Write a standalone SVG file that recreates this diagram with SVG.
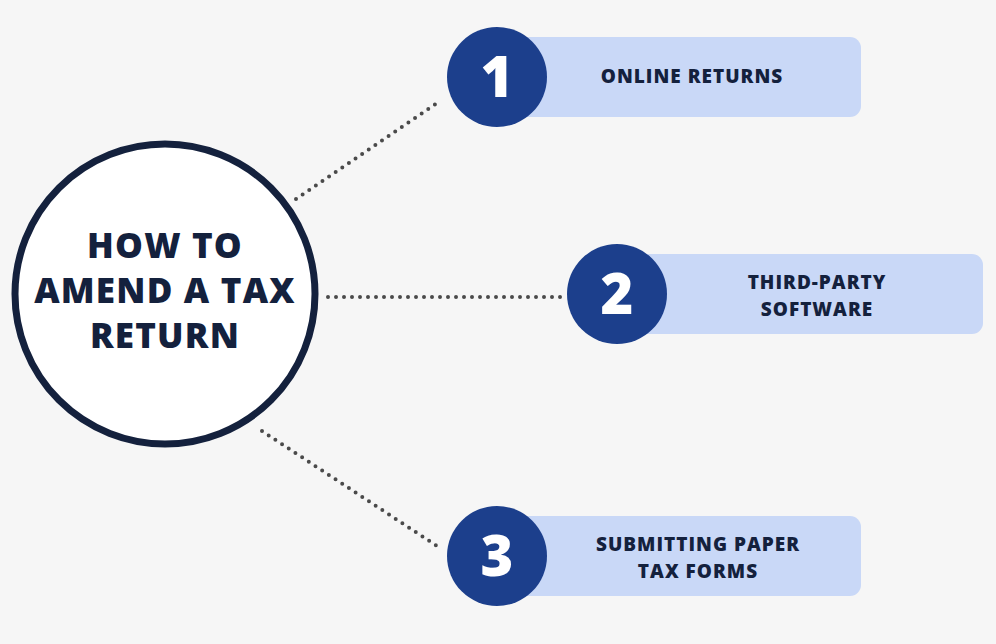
<svg xmlns="http://www.w3.org/2000/svg" width="996" height="644" viewBox="0 0 996 644">
<style>
.pill{fill:#c9d8f7}
.num{fill:#1c3f8c}
.nt{font-family:"Open Sans","Liberation Sans",sans-serif;font-weight:800;font-size:56px;fill:#fff;text-anchor:middle}
.lt{font-family:"Open Sans","Liberation Sans",sans-serif;font-weight:800;font-size:19px;letter-spacing:1px;fill:#14213d;text-anchor:middle}
.mt{font-family:"Open Sans","Liberation Sans",sans-serif;font-weight:800;font-size:35px;letter-spacing:1.2px;fill:#14213d;text-anchor:middle}
.dl{stroke:#4a4a4a;stroke-width:4;stroke-linecap:round;stroke-dasharray:0 8;fill:none}
</style>
<rect width="996" height="644" fill="#f6f6f6"/>
<g id="connectors">
<line class="dl" x1="296" y1="199" x2="440" y2="101"/>
<line class="dl" x1="328" y1="297" x2="563" y2="297"/>
<line class="dl" x1="262" y1="431" x2="440" y2="548"/>
</g>
<g id="main">
<circle cx="165" cy="294" r="150" fill="#fff" stroke="#14213d" stroke-width="7"/>
<text class="mt" x="165" y="258">HOW TO</text>
<text class="mt" x="165" y="303">AMEND A TAX</text>
<text class="mt" x="165" y="348">RETURN</text>
</g>
<g id="n1">
<rect class="pill" x="495" y="37" width="366" height="80" rx="11"/>
<circle class="num" cx="497" cy="77" r="50"/>
<text class="nt" x="497" y="97">1</text>
<text class="lt" x="692" y="83">ONLINE RETURNS</text>
</g>
<g id="n2">
<rect class="pill" x="615" y="254" width="368" height="80" rx="11"/>
<circle class="num" cx="617" cy="294" r="50"/>
<text class="nt" x="617" y="314">2</text>
<text class="lt" x="817" y="289">THIRD-PARTY</text>
<text class="lt" x="817" y="316">SOFTWARE</text>
</g>
<g id="n3">
<rect class="pill" x="495" y="516" width="366" height="80" rx="11"/>
<circle class="num" cx="497" cy="556" r="50"/>
<text class="nt" x="497" y="576">3</text>
<text class="lt" x="698" y="551">SUBMITTING PAPER</text>
<text class="lt" x="698" y="578">TAX FORMS</text>
</g>
</svg>
